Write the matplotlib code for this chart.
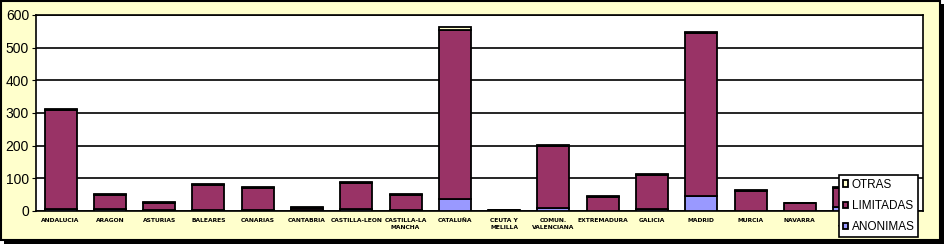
import matplotlib
matplotlib.use("Agg")
import matplotlib.pyplot as plt
from matplotlib.patches import Rectangle
import numpy as np

regiones = ["ANDALUCIA", "ARAGON", "ASTURIAS", "BALEARES", "CANARIAS", "CANTABRIA",
            "CASTILLA-LEON", "CASTILLA-LA\nMANCHA", "CATALUÑA", "CEUTA Y\nMELILLA",
            "COMUN.\nVALENCIANA", "EXTREMADURA", "GALICIA", "MADRID", "MURCIA",
            "NAVARRA", "PAIS\nVASCO", "RIOJA"]
anonimas = [7, 6, 4, 4, 4, 2, 6, 2, 38, 0, 9, 1, 6, 45, 1, 1, 12, 1]
limitadas = [301, 44, 22, 77, 67, 8, 81, 48, 517, 2, 190, 42, 105, 500, 61, 22, 58, 10]
otras = [4, 1, 1, 1, 1, 1, 1, 1, 7, 0, 2, 2, 2, 2, 1, 1, 2, 0]

col_anon = "#9999FF"
col_lim = "#993366"
col_otr = "#FFFFCC"

fig = plt.figure(figsize=(9.44, 2.44), dpi=100)
fig.patch.set_facecolor("white")

# marco amarillo con sombra
W, H = 944, 244
fig.patches.append(Rectangle((4 / W, 0), 940 / W, 240 / H, transform=fig.transFigure,
                             facecolor="black", edgecolor="none", zorder=-2))
fig.patches.append(Rectangle((1 / W, 4 / H), 939 / W, 239 / H, transform=fig.transFigure,
                             facecolor=col_otr, edgecolor="black", linewidth=1.5, zorder=-1))

ax = fig.add_axes([36 / W, 1 - 211 / H, 887 / W, 196 / H])
x = np.arange(len(regiones))
a = np.array(anonimas)
l = np.array(limitadas)
o = np.array(otras)
ancho = 0.65
kw = dict(width=ancho, edgecolor="black", linewidth=1.3, zorder=3)
b1 = ax.bar(x, a, color=col_anon, label="ANONIMAS", **kw)
b2 = ax.bar(x, l, bottom=a, color=col_lim, label="LIMITADAS", **kw)
b3 = ax.bar(x, o, bottom=a + l, color=col_otr, label="OTRAS", **kw)

ax.set_xlim(-0.5, len(regiones) - 0.5)
ax.set_ylim(0, 600)
ax.set_yticks(range(0, 601, 100))
ax.yaxis.grid(True, color="black", linewidth=1.2, zorder=0)
ax.set_axisbelow(True)
ax.set_facecolor("white")
for s in ax.spines.values():
    s.set_linewidth(1.2)
    s.set_color("black")

ax.set_xticks(x)
ax.set_xticklabels(regiones, fontsize=4.3, fontweight="bold", linespacing=1.6,
                   family="DejaVu Sans")
ax.tick_params(axis="x", length=0, pad=5)
ax.tick_params(axis="y", length=3, labelsize=10, pad=2)
for t in ax.get_yticklabels():
    t.set_family("Liberation Sans")

# la leyenda tapa el final del eje, como en el original
leg = ax.legend(handles=[b3, b2, b1], loc="lower right",
                bbox_to_anchor=(918 / W, 7 / H), bbox_transform=fig.transFigure,
                prop={"family": "Liberation Sans", "size": 8.5},
                fancybox=False, framealpha=1, edgecolor="black",
                handlelength=0.45, handleheight=0.45, handletextpad=0.3,
                labelspacing=0.8, borderpad=0.3, borderaxespad=0)
leg.get_frame().set_linewidth(1.2)
leg.set_zorder(10)

fig.savefig("out.png", dpi=100, facecolor=fig.get_facecolor())
